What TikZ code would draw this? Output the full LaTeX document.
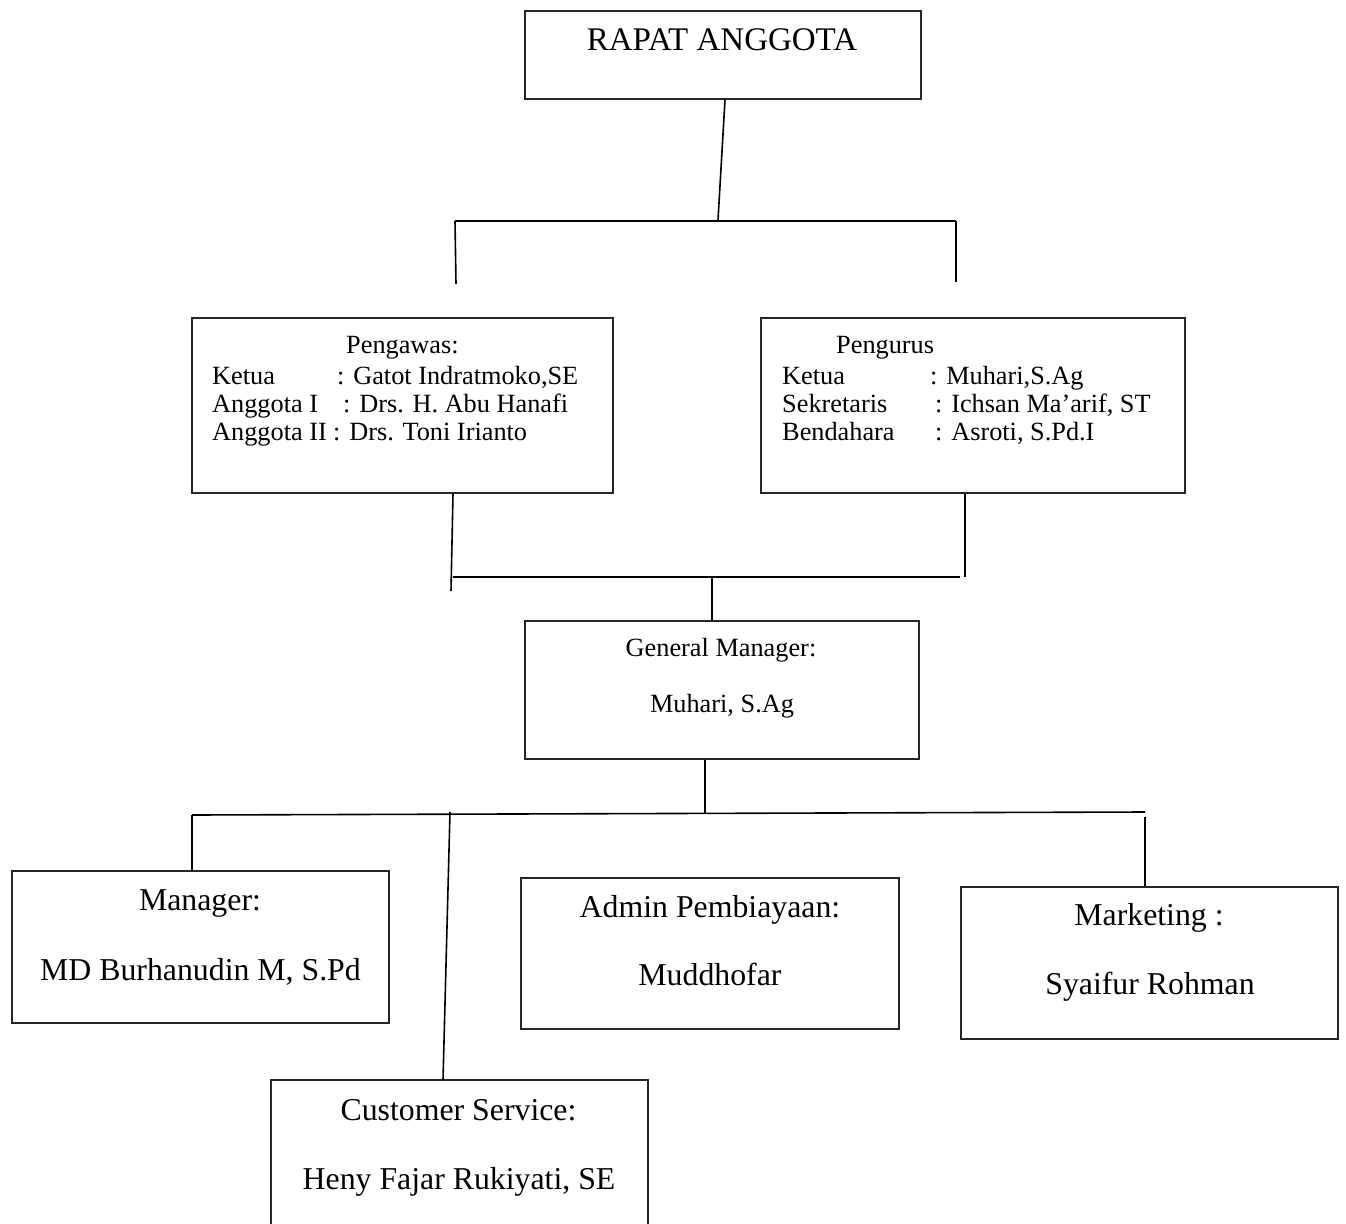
\documentclass[tikz,border=0pt]{standalone}
\usepackage{fontspec}
\setmainfont{Liberation Serif}
\begin{document}
\begin{tikzpicture}[x=1pt,y=-1pt,
  box/.style={draw=black!85,line width=1.3pt,inner sep=0pt,fill=none},
  conn/.style={draw=black,line width=1.6pt},
  txt/.style={inner sep=0pt,anchor=base,font=\fontsize{26.3}{28}\selectfont},
  txtl/.style={inner sep=0pt,anchor=base west,font=\fontsize{26.3}{28}\selectfont},
  big/.style={inner sep=0pt,anchor=base,font=\fontsize{31.8}{34}\selectfont},
  title/.style={inner sep=0pt,anchor=base,font=\fontsize{33}{35}\selectfont}]
\useasboundingbox (0,0) rectangle (1346,1223);
\begin{scope}
\clip (0,0) rectangle (1346,1223);
% boxes
\node[box,minimum width=396pt,minimum height=88pt] (rapat) at (723,55) {};
\node[box,minimum width=421pt,minimum height=175pt] (pengawas) at (402.5,405.5) {};
\node[box,minimum width=424pt,minimum height=175pt] (pengurus) at (973,405.5) {};
\node[box,minimum width=394pt,minimum height=138pt] (gm) at (722,690) {};
\node[box,minimum width=377pt,minimum height=152pt] (manager) at (200.5,947) {};
\node[box,minimum width=378pt,minimum height=151pt] (admin) at (710,953.5) {};
\node[box,minimum width=377pt,minimum height=152pt] (marketing) at (1149.5,963) {};
\node[box,minimum width=377pt,minimum height=152pt] (cs) at (459.5,1156) {};
% texts
\node[title] (tRapat) at (722,51) {RAPAT ANGGOTA};
\node[txtl] (tPgw) at (346,353) {Pengawas:};
\node[txtl] (tPgw1a) at (212,384) {Ketua};
\node[txtl] (tPgw1b) at (337,384) {: Gatot Indratmoko,SE};
\node[txtl] (tPgw2a) at (212,412) {Anggota I};
\node[txtl] (tPgw2b) at (343,412) {: Drs. H. Abu Hanafi};
\node[txtl] (tPgw3a) at (212,440) {Anggota II};
\node[txtl] (tPgw3b) at (333,440) {: Drs. Toni Irianto};
\node[txtl] (tPgr) at (836,353) {Pengurus};
\node[txtl] (tPgr1a) at (782,384) {Ketua};
\node[txtl] (tPgr1b) at (930,384) {: Muhari,S.Ag};
\node[txtl] (tPgr2a) at (782,412) {Sekretaris};
\node[txtl] (tPgr2b) at (935,412) {: Ichsan Ma’arif, ST};
\node[txtl] (tPgr3a) at (782,440) {Bendahara};
\node[txtl] (tPgr3b) at (935,440) {: Asroti, S.Pd.I};
\node[txt] (tGm1) at (721,656) {General Manager:};
\node[txt] (tGm2) at (722,712) {Muhari, S.Ag};
\node[big] (tMan1) at (200,910) {Manager:};
\node[big] (tMan2) at (200.5,980) {MD Burhanudin M, S.Pd};
\node[big] (tAdm1) at (710,917) {Admin Pembiayaan:};
\node[big] (tAdm2) at (710,985) {Muddhofar};
\node[big] (tMkt1) at (1149,925) {Marketing :};
\node[big] (tMkt2) at (1150,994) {Syaifur Rohman};
\node[big] (tCs1) at (458.5,1120) {Customer Service:};
\node[big] (tCs2) at (459,1189) {Heny Fajar Rukiyati, SE};
% junction coordinates
\coordinate (j1) at (718,220);
\coordinate (h1l) at (455,221);
\coordinate (h1r) at (956,221);
\coordinate (d1l) at (456,284);
\coordinate (d1r) at (956,282);
\coordinate (h2l) at (453,577);
\coordinate (h2r) at (960,577);
\coordinate (d2l) at (451,591);
\coordinate (d2r) at (965,577);
\coordinate (j2) at (712,577);
\coordinate (j3) at (705,813);
\coordinate (h3l) at (192,815);
\coordinate (h3r) at (1145,812);
\coordinate (j4) at (450,812);
\coordinate (j5) at (1145,817);
% connectors
\draw[conn] (rapat.south -| 725,0) -- (j1);
\draw[conn] (h1l) -- (h1r);
\draw[conn] (h1l) -- (d1l);
\draw[conn] (h1r) -- (d1r);
\draw[conn] (pengawas.south -| h2l) -- (d2l);
\draw[conn] (pengurus.south -| d2r) -- (d2r);
\draw[conn] (h2l) -- (h2r);
\draw[conn] (j2) -- (gm.north -| j2);
\draw[conn] (gm.south -| j3) -- (j3);
\draw[conn] (h3l) -- (h3r);
\draw[conn] (h3l) -- (manager.north -| h3l);
\draw[conn] (j4) -- (443,1080);
\draw[conn] (j5) -- (marketing.north -| j5);
\end{scope}
\end{tikzpicture}
\end{document}
